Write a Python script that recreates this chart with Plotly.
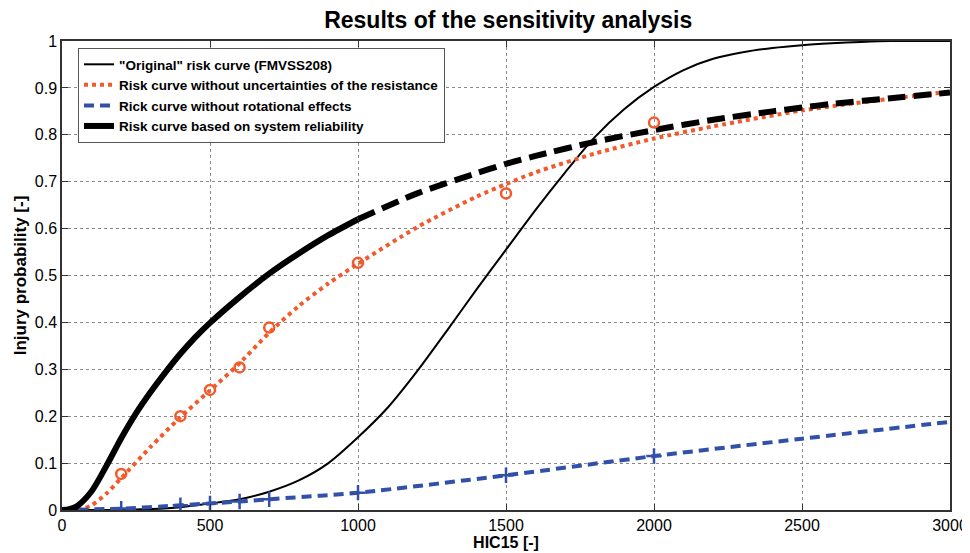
import plotly.graph_objects as go

# ---- data ----
hic_orig = [0, 100, 200, 300, 400, 500, 600, 700, 800, 900, 1000, 1100, 1200, 1300, 1400,
            1500, 1600, 1700, 1800, 1900, 2000, 2100, 2200, 2300, 2400, 2500, 2600, 2700, 2800, 3000]
p_orig = [0, 0, 0.0005, 0.002, 0.006, 0.014, 0.023, 0.039, 0.063, 0.1, 0.155, 0.218, 0.296, 0.382, 0.47,
          0.555, 0.64, 0.72, 0.795, 0.855, 0.902, 0.938, 0.962, 0.976, 0.985, 0.991, 0.995, 0.998, 1.0, 1.0]

hic_sys_solid = [0, 25, 50, 100, 150, 200, 250, 300, 350, 400, 450, 500, 600, 700, 800, 900, 1000]
p_sys_solid = [0, 0.002, 0.008, 0.04, 0.094, 0.153, 0.206, 0.252, 0.294, 0.333, 0.368, 0.399, 0.454, 0.504, 0.547, 0.586, 0.62]
hic_sys_dash = [1000, 1200, 1400, 1500, 1600, 1800, 2000, 2200, 2400, 2500, 2600, 2800, 3000]
p_sys_dash = [0.62, 0.675, 0.718, 0.738, 0.755, 0.785, 0.81, 0.832, 0.85, 0.858, 0.866, 0.878, 0.89]

hic_res = [0, 50, 100, 150, 200, 300, 400, 500, 600, 700, 800, 900, 1000, 1200, 1400, 1500,
           1600, 1800, 2000, 2200, 2500, 2800, 3000]
p_res = [0, 0.0, 0.01, 0.035, 0.068, 0.135, 0.198, 0.255, 0.313, 0.378, 0.435, 0.483, 0.525, 0.603, 0.668, 0.695,
         0.72, 0.76, 0.792, 0.818, 0.852, 0.877, 0.892]
hic_res_pts = [200, 400, 500, 600, 700, 1000, 1500, 2000]
p_res_pts = [0.077, 0.2, 0.256, 0.304, 0.389, 0.527, 0.675, 0.826]

hic_rot = [0, 200, 400, 500, 600, 700, 1000, 1500, 2000, 2500, 3000]
p_rot = [0, 0.003, 0.01, 0.014, 0.018, 0.023, 0.037, 0.074, 0.115, 0.152, 0.188]
hic_rot_pts = [200, 400, 500, 600, 700, 1000, 1500, 2000]
p_rot_pts = [0.003, 0.01, 0.014, 0.018, 0.023, 0.037, 0.074, 0.115]

x_ticks = [0, 500, 1000, 1500, 2000, 2500, 3000]
y_ticks = [0, 0.1, 0.2, 0.3, 0.4, 0.5, 0.6, 0.7, 0.8, 0.9, 1]
y_tick_labels = ["0", "0.1", "0.2", "0.3", "0.4", "0.5", "0.6", "0.7", "0.8", "0.9", "1"]

ORANGE = "#F2592B"
BLUE = "#3250A8"
FONT = "Liberation Sans, Arial, sans-serif"

fig = go.Figure()

fig.add_trace(go.Scatter(x=hic_orig, y=p_orig, mode="lines", name='"Original" risk curve (FMVSS208)',
                         line=dict(color="black", width=2, shape="spline", smoothing=0.8)))
fig.add_trace(go.Scatter(x=hic_res, y=p_res, mode="lines", name="Risk curve without uncertainties of the resistance",
                         line=dict(color=ORANGE, width=4, dash="dot", shape="spline", smoothing=0.7)))
fig.add_trace(go.Scatter(x=hic_rot, y=p_rot, mode="lines", name="Rick curve without rotational effects",
                         line=dict(color=BLUE, width=4, dash="10px,6px", shape="spline", smoothing=0.8)))
fig.add_trace(go.Scatter(x=hic_sys_solid, y=p_sys_solid, mode="lines", name="Risk curve based on system reliability",
                         line=dict(color="black", width=6, shape="spline", smoothing=0.8)))
fig.add_trace(go.Scatter(x=hic_sys_dash, y=p_sys_dash, mode="lines", showlegend=False,
                         line=dict(color="black", width=6, dash="18px,8px", shape="spline", smoothing=0.8)))
fig.add_trace(go.Scatter(x=hic_res_pts, y=p_res_pts, mode="markers", showlegend=False,
                         marker=dict(symbol="circle-open", size=10, color=ORANGE, line=dict(width=2.5, color=ORANGE))))
fig.add_trace(go.Scatter(x=hic_rot_pts, y=p_rot_pts, mode="markers", showlegend=False,
                         marker=dict(symbol="cross-thin-open", size=11, color=BLUE, line=dict(width=2.5, color=BLUE))))

axis_common = dict(showline=True, linecolor="#333333", linewidth=1.5, mirror="ticks",
                   ticks="inside", ticklen=6, tickcolor="#333333",
                   showgrid=True, gridcolor="#8a8a8a", griddash="dot", gridwidth=1,
                   zeroline=False, automargin=False,
                   tickfont=dict(family=FONT, size=16, color="black"))

# page body has an 8px margin, so figure is sized/offset to place the plot area as in the reference
fig.update_layout(
    width=962, height=545,
    margin=dict(l=54, r=20, t=33, b=43),
    paper_bgcolor="white", plot_bgcolor="white",
    title=dict(text="Results of the sensitivity analysis", x=0.52, xanchor="center", y=0.978, yanchor="middle",
               font=dict(family=FONT, size=23, color="black", weight="bold")),
    xaxis=dict(range=[0, 3000], tickvals=x_ticks,
               title=dict(text="HIC15 [-]", font=dict(family=FONT, size=16, color="black", weight="bold"), standoff=0),
               **axis_common),
    yaxis=dict(range=[0, 1], tickvals=y_ticks, ticktext=y_tick_labels,
               title=dict(text="Injury probability [-]", font=dict(family=FONT, size=17, color="black", weight="bold"), standoff=4),
               **axis_common),
    legend=dict(x=0.018, y=0.985, xanchor="left", yanchor="top",
                bgcolor="white", bordercolor="#555555", borderwidth=1,
                font=dict(family=FONT, size=13.5, color="black", weight="bold"),
                itemwidth=30, tracegroupgap=0),
    showlegend=True,
)

fig.write_html("out.html")
